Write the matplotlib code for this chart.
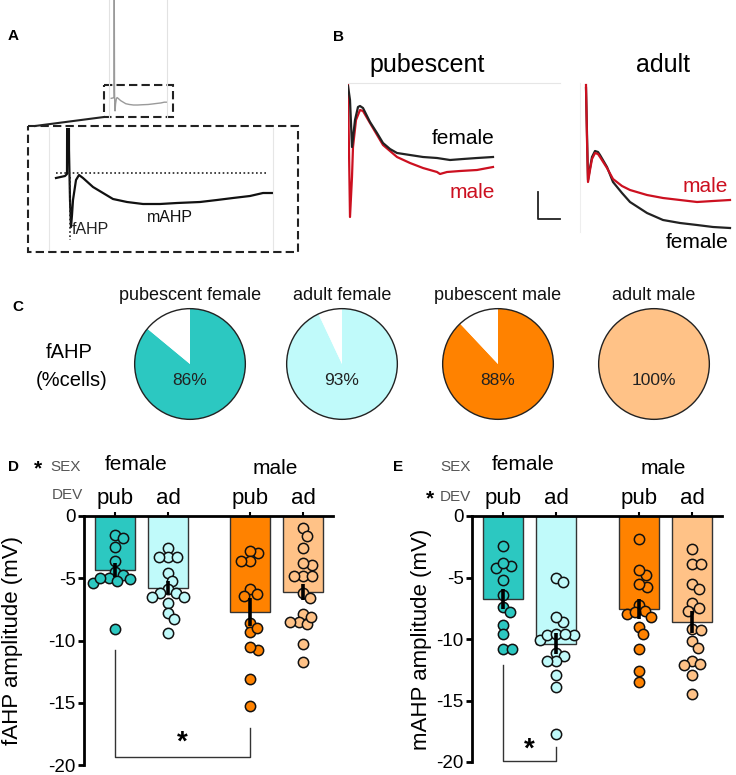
import numpy as np
import matplotlib
matplotlib.use("Agg")
import matplotlib.pyplot as plt
from matplotlib.patches import Circle, Rectangle

plt.rcParams['font.family'] = ['Liberation Sans', 'DejaVu Sans']

W, H = 736, 775

# ---------------- data ----------------
# panel A: example trace (ms, mV relative to baseline)
trace_t = [14, 32, 36, 38, 40, 42, 44, 46, 48, 54, 60, 68, 88, 108, 128, 156,
           188, 222, 256, 302, 336, 368, 402, 428, 448]
trace_v = [-2.5, -1.5, -0.5, 190, 11.5, -13.5, -27, -21, -13.5, -3.5, -1, -2.5,
           -7, -10, -13, -14.5, -15.5, -15.5, -15, -14.5, -13.5, -12.5, -11.5, -10, -10]

# panel B: average traces
pub_f_t = [0, 4, 8, 14, 20, 24, 30, 44, 58, 70, 84, 98, 124, 150, 178, 204, 230, 258, 290]
pub_f_v = [-0.3, -4.5, -18.6, -10.5, -6.6, -6.3, -6.9, -11.1, -14.4, -17.4, -19.2, -20.4,
           -21.0, -21.6, -21.9, -22.5, -22.2, -21.9, -21.6]
pub_m_t = [0, 2, 4, 8, 10, 16, 24, 30, 44, 70, 98, 124, 150, 178, 184, 198, 224, 258, 290]
pub_m_v = [0, -19.5, -39.6, -27.6, -18.6, -10.5, -7.5, -7.8, -11.4, -18, -21.6, -23.4,
           -24.9, -26.1, -26.7, -26.1, -25.8, -25.5, -24.6]
ad_m_t = [12, 14, 16, 20, 24, 30, 36, 40, 54, 66, 84, 100, 134, 166, 200, 234, 266, 300]
ad_m_v = [0, -16.5, -29.1, -25.5, -22.2, -20.4, -20.7, -21.6, -24.9, -28.2, -30.3, -31.5,
          -33, -33.9, -34.5, -35.1, -34.8, -34.5]
ad_f_t = [12, 16, 20, 24, 30, 36, 40, 54, 66, 84, 100, 134, 166, 200, 234, 266, 300]
ad_f_v = [-0.9, -28.5, -24.9, -21.6, -19.8, -20.1, -21.0, -24.6, -29.1, -32.4, -35.1,
          -38.4, -40.5, -41.4, -42, -42.6, -42.9]

# panel C
pie_names = ["pubescent female", "adult female", "pubescent male", "adult male"]
pie_pct = [86, 93, 88, 100]

# panels D / E
dev_labels = ["pub", "ad", "pub", "ad"]
colors = ['#2CC8C1', '#C0FAFA', '#FF8200', '#FFC287']

fahp = [
    [-1.5, -1.8, -2.5, -3.6, -4.5, -4.7, -5.0, -5.2, -5.4, -5.1, -5.0, -9.1],
    [-2.6, -3.3, -3.3, -3.3, -4.6, -5.2, -5.9, -6.2, -6.2, -6.5, -6.5, -7.0, -7.8, -8.3, -9.4],
    [-2.95, -2.8, -3.6, -3.6, -5.9, -6.4, -6.3, -8.6, -9.35, -9.0, -10.8, -10.5, -13.1, -15.3],
    [-1.0, -1.6, -2.6, -3.9, -3.8, -4.8, -4.8, -4.8, -6.2, -6.6, -7.9, -8.5, -8.7, -8.5,
     -8.1, -10.3, -11.7],
]
fahp_mean = [-4.35, -5.75, -7.7, -6.1]
fahp_sem = [0.55, 0.5, 1.1, 0.65]

mahp = [
    [-2.4, -4.2, -4.1, -3.8, -5.2, -6.4, -7.4, -7.8, -8.9, -9.6, -10.8, -10.8],
    [-5.0, -5.4, -8.6, -8.2, -10.1, -9.7, -9.7, -9.6, -9.6, -11.1, -11.4, -11.8, -11.8,
     -12.9, -13.9, -17.7],
    [-1.9, -4.8, -4.4, -5.8, -5.5, -7.2, -7.7, -8.0, -8.2, -7.8, -9.0, -9.6, -10.8, -12.6, -13.5],
    [-2.7, -3.9, -3.9, -5.5, -5.9, -7.1, -7.7, -7.5, -9.2, -9.3, -10.2, -10.7, -11.8, -12.1,
     -12.0, -12.9, -14.5],
]
mahp_mean = [-6.75, -10.4, -7.55, -8.6]
mahp_sem = [0.8, 0.85, 0.8, 0.88]


def ax_px(fig, x0, y0, x1, y1):
    # axes placed by pixel box (top-left origin)
    return fig.add_axes([x0 / W, 1 - y1 / H, (x1 - x0) / W, (y1 - y0) / H])


def swarm(vals, xscale=53.0, yscale=12.4, diam=8.2):
    # simple beeswarm: offsets in data units
    vals = np.asarray(vals, dtype=float)
    order = np.argsort(-vals)
    cands = [0.0]
    for k in range(1, 60):
        cands += [k * 1.0, -k * 1.0]
    placed = []
    out = np.zeros(len(vals))
    for i in order:
        y = vals[i] * yscale
        for c in cands:
            if all((c - px) ** 2 + (y - py) ** 2 >= diam ** 2 for px, py in placed):
                break
        placed.append((c, y))
        out[i] = c / xscale
    return out


def bar_panel(ax, groups, means, sems, ylabel, label_x):
    pos = [0, 1, 2.55, 3.55]
    ax.bar(pos, means, width=0.755, color=colors, edgecolor='#333333', lw=1, zorder=1)
    for p, vals, c in zip(pos, groups, colors):
        xs = p + swarm(vals)
        ax.scatter(xs, vals, s=55, color=c, edgecolors='#111111', linewidths=1.1, zorder=3)
    ax.errorbar(pos, means, yerr=sems, fmt='none', ecolor='black', elinewidth=2.6,
                capsize=0, zorder=4)
    ax.set_ylim(-20, 0)
    ax.set_xlim(-0.585, 4.11)
    ax.spines['right'].set_visible(False)
    ax.spines['bottom'].set_visible(False)
    ax.spines['left'].set_linewidth(2)
    ax.spines['top'].set_linewidth(2)
    ax.set_yticks([0, -5, -10, -15, -20])
    ax.set_yticklabels(['0', '-5', '-10', '-15', '-20'])
    ax.tick_params(axis='y', labelsize=13.5, length=4.5, width=2, pad=1.5)
    ax.xaxis.tick_top()
    ax.set_xticks(pos)
    ax.set_xticklabels(dev_labels, fontsize=16)
    ax.tick_params(axis='x', length=3, width=1.5, pad=2)
    ax.set_ylabel(ylabel, fontsize=16)
    ax.yaxis.set_label_coords(label_x, 0.5)
    ax.set_facecolor('none')


fig = plt.figure(figsize=(W / 100, H / 100), dpi=100)
ov = fig.add_axes([0, 0, 1, 1])
ov.set_xlim(0, W)
ov.set_ylim(H, 0)
ov.axis('off')

# ---------------- panel A ----------------
small = ax_px(fig, 109.4, 0, 166.8, 117)
small.plot(trace_t, trace_v, color='#9a9a9a', lw=1)
small.set_xlim(0, 448)
small.set_ylim(-38.9, 189.3)
small.set_xticks([])
small.set_yticks([])
for s in ['top', 'bottom']:
    small.spines[s].set_visible(False)
for s in ['left', 'right']:
    small.spines[s].set_color('#e2e2e2')
    small.spines[s].set_linewidth(0.8)
small.set_facecolor('none')

ins = ax_px(fig, 49, 128, 273, 250)
ins.plot(trace_t, trace_v, color='#111111', lw=1.6)
ins.plot([14, 434], [0, 0], color='#222222', lw=1.2, ls=(0, (1, 1.5)))
ins.plot([42, 42], [-2, -33.5], color='#222222', lw=1.2, ls=(0, (1, 1.5)))
ins.text(46, -28.5, 'fAHP', fontsize=11.5, ha='left', va='center', color='#222222')
ins.text(196, -22.5, 'mAHP', fontsize=11.5, ha='left', va='center', color='#111111')
ins.set_xlim(0, 448)
ins.set_ylim(-38.5, 22.5)
ins.set_xticks([])
ins.set_yticks([])
for s in ['top', 'bottom']:
    ins.spines[s].set_visible(False)
for s in ['left', 'right']:
    ins.spines[s].set_color('#e6e6e6')
    ins.spines[s].set_linewidth(0.8)
ins.set_facecolor('none')

ov.add_patch(Rectangle((104, 85), 69, 32, fill=False, ec='#222222', lw=1.5, ls=(0, (4, 2))))
ov.add_patch(Rectangle((28, 126), 270, 126, fill=False, ec='#222222', lw=1.5, ls=(0, (4, 2))))
ov.plot([104, 35], [117, 126], color='#222222', lw=1.5)

# ---------------- panel B ----------------
red = '#CC1020'
bp = ax_px(fig, 348, 83, 560, 222)
bp.plot(pub_f_t, pub_f_v, color='#222222', lw=1.6, zorder=3)
bp.plot(pub_m_t, pub_m_v, color=red, lw=1.6, zorder=2)
bp.plot([380, 380, 424], [-32.1, -40.2, -40.2], color='#222222', lw=1.3, clip_on=False)
bp.set_xlim(0, 424)
bp.set_ylim(-41.1, 0.6)
bp.set_xticks([])
bp.set_yticks([])
for s in ['left', 'right', 'bottom']:
    bp.spines[s].set_visible(False)
bp.spines['top'].set_color('#e6e6e6')
bp.spines['top'].set_linewidth(0.8)
bp.set_facecolor('none')

ba = ax_px(fig, 580, 83, 735, 232)
ba.plot(ad_f_t, ad_f_v, color='#222222', lw=1.6, zorder=2)
ba.plot(ad_m_t, ad_m_v, color=red, lw=1.6, zorder=3)
ba.set_xlim(0, 310)
ba.set_ylim(-44.1, 0.6)
ba.set_xticks([])
ba.set_yticks([])
for s in ['top', 'right', 'bottom']:
    ba.spines[s].set_visible(False)
ba.spines['left'].set_color('#eeeeee')
ba.spines['left'].set_linewidth(0.8)
ba.set_facecolor('none')

ov.text(427, 65, 'pubescent', fontsize=18, ha='center', va='center')
ov.text(663, 65, 'adult', fontsize=18, ha='center', va='center')
ov.text(495, 138, 'female', fontsize=15, ha='right', va='center', color='black')
ov.text(495, 192, 'male', fontsize=15, ha='right', va='center', color=red)
ov.text(728, 187, 'male', fontsize=15, ha='right', va='center', color=red)
ov.text(728, 242, 'female', fontsize=15, ha='right', va='center', color='black')

# ---------------- panel C ----------------
pie_cx = [190, 342, 498, 654]
for cx, name, pct, c in zip(pie_cx, pie_names, pie_pct, colors):
    pa = ax_px(fig, cx - 57, 307, cx + 57, 421)
    vals = [pct, 100 - pct]
    pa.pie(vals, colors=[c, 'white'], startangle=90, counterclock=False,
           wedgeprops=dict(linewidth=0))
    pa.add_patch(Circle((0, 0), 1, fill=False, ec='#222222', lw=1))
    pa.text(0, -0.29, f'{pct}%', fontsize=12.5, ha='center', va='center', color='#222222')
    pa.set_xlim(-1.03, 1.03)
    pa.set_ylim(-1.03, 1.03)
    pa.set_aspect('equal')
    pa.axis('off')
    ov.text(cx, 295, name, fontsize=13, ha='center', va='center', color='#111111')
ov.text(69, 352, 'fAHP', fontsize=14.5, ha='center', va='center')
ov.text(72, 380, '(%cells)', fontsize=14.5, ha='center', va='center')

# ---------------- panels D / E ----------------
axd = ax_px(fig, 84, 516, 333, 765)
bar_panel(axd, fahp, fahp_mean, fahp_sem, 'fAHP amplitude (mV)', -0.245)
axd.plot([0, 0, 2.55, 2.55], [-10.8, -19.35, -19.35, -17.0], color='#333333', lw=1,
         clip_on=False)
axd.text(1.27, -18.2, '*', fontsize=20, fontweight='bold', ha='center', va='center')

axe = ax_px(fig, 472, 516, 722, 762)
bar_panel(axe, mahp, mahp_mean, mahp_sem, 'mAHP amplitude (mV)', -0.16)
axe.plot([0, 0, 1, 1], [-12.1, -19.9, -19.9, -18.8], color='#333333', lw=1, clip_on=False)
axe.text(0.5, -19.0, '*', fontsize=20, fontweight='bold', ha='center', va='center')

gray = '#555555'
ov.text(38, 469, '*', fontsize=15, fontweight='bold', ha='center', va='center')
ov.text(50, 467, 'SEX', fontsize=11, ha='left', va='center', color=gray)
ov.text(52, 495, 'DEV', fontsize=11, ha='left', va='center', color=gray)
ov.text(136, 465, 'female', fontsize=15, ha='center', va='center')
ov.text(275, 468, 'male', fontsize=15, ha='center', va='center')

ov.text(440, 467, 'SEX', fontsize=11, ha='left', va='center', color=gray)
ov.text(430, 499, '*', fontsize=15, fontweight='bold', ha='center', va='center')
ov.text(440, 497, 'DEV', fontsize=11, ha='left', va='center', color=gray)
ov.text(523, 465, 'female', fontsize=15, ha='center', va='center')
ov.text(663, 468, 'male', fontsize=15, ha='center', va='center')

# panel letters
for lab, x, y in [('A', 8, 36), ('B', 333, 37), ('C', 12, 307), ('D', 8, 467), ('E', 393, 467)]:
    ov.text(x, y, lab, fontsize=11, fontweight='bold', ha='left', va='center')

fig.savefig('out.png', dpi=100)
